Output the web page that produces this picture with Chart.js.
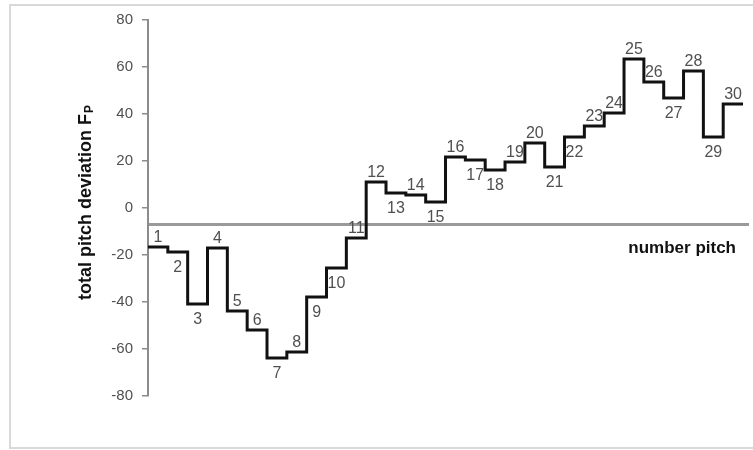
<!DOCTYPE html>
<html>
<head>
<meta charset="utf-8">
<script src="https://cdn.jsdelivr.net/npm/chart.js@4"></script>
<style>
  body { margin: 0; background: #fff; }
  #wrap { width: 753px; height: 450px; position: relative; }
</style>
</head>
<body>
<div id="wrap"><canvas id="pitchChart"></canvas></div>
<script>
// numéros des pas et écart cumulé
const pitchNumbers = [1, 2, 3, 4, 5, 6, 7, 8, 9, 10, 11, 12, 13, 14, 15,
                      16, 17, 18, 19, 20, 21, 22, 23, 24, 25, 26, 27, 28, 29, 30];
const deviation = [-16.6, -18.7, -40.9, -17, -43.8, -51.9, -63.8, -61.3, -37.9, -25.5,
                   -12.8, 11.1, 6.4, 5.5, 2.6, 21.7, 20.4, 16.2, 19.6, 27.7,
                   17.4, 30.2, 34.9, 40.4, 63.4, 53.6, 46.8, 58.3, 30.2, 44.3];
const yTicks = [-80, -60, -40, -20, 0, 20, 40, 60, 80];
const axisCrossing = -7.2; // ligne horizontale de l'axe des x

// étiquette au-dessus (1) ou en dessous (0) de chaque marche
const labelAbove = [1, 0, 0, 1, 1, 1, 0, 1, 0, 0, 1, 1, 0, 1, 0,
                    1, 0, 0, 1, 1, 0, 0, 1, 1, 1, 1, 0, 1, 0, 1];

// chaque marche va de i à i+1
const points = deviation.map((v, i) => ({ x: i, y: v }));
points.push({ x: deviation.length, y: deviation[deviation.length - 1] });

const stepLabels = {
  id: 'stepLabels',
  afterDatasetsDraw(chart) {
    const { ctx, scales: { x, y } } = chart;
    ctx.save();
    ctx.font = '16px "Liberation Sans", Arial, sans-serif';
    ctx.fillStyle = '#505050';
    ctx.textAlign = 'center';
    ctx.textBaseline = 'alphabetic';
    pitchNumbers.forEach((n, i) => {
      const px = x.getPixelForValue(i + 0.5);
      const py = y.getPixelForValue(deviation[i]);
      ctx.fillText(String(n), px, labelAbove[i] ? py - 5 : py + 20);
    });
    ctx.restore();
  }
};

const decorations = {
  id: 'decorations',
  beforeDraw(chart) {
    const { ctx } = chart;
    ctx.save();
    ctx.strokeStyle = '#d9d9d9';
    ctx.lineWidth = 2;
    ctx.strokeRect(10, 5, 800, 443);
    ctx.restore();
  },
  afterDraw(chart) {
    const { ctx, chartArea } = chart;
    ctx.save();
    // titre de l'axe y avec indice
    ctx.translate(86, 203);
    ctx.rotate(-Math.PI / 2);
    ctx.fillStyle = '#111';
    ctx.textBaseline = 'middle';
    const main = 'total pitch deviation F';
    ctx.font = 'bold 18px "Liberation Sans", Arial, sans-serif';
    const w1 = ctx.measureText(main).width;
    ctx.font = 'bold 12px "Liberation Sans", Arial, sans-serif';
    const w2 = ctx.measureText('P').width;
    const start = -(w1 + w2) / 2;
    ctx.font = 'bold 18px "Liberation Sans", Arial, sans-serif';
    ctx.textAlign = 'left';
    ctx.fillText(main, start, 0);
    ctx.font = 'bold 12px "Liberation Sans", Arial, sans-serif';
    ctx.fillText('P', start + w1 + 1, 4);
    ctx.restore();

    ctx.save();
    ctx.font = 'bold 17px "Liberation Sans", Arial, sans-serif';
    ctx.fillStyle = '#111';
    ctx.textAlign = 'right';
    ctx.textBaseline = 'middle';
    ctx.fillText('number pitch', chartArea.right - 12, 248);
    ctx.restore();
  }
};

new Chart(document.getElementById('pitchChart'), {
  type: 'line',
  data: {
    datasets: [{
      data: points,
      stepped: true,
      borderColor: '#111',
      borderWidth: 3,
      pointRadius: 0,
      fill: false
    }]
  },
  options: {
    responsive: true,
    maintainAspectRatio: false,
    animation: false,
    layout: { padding: { top: 20, bottom: 54, right: 5, left: 0 } },
    plugins: { legend: { display: false }, tooltip: { enabled: false } },
    scales: {
      x: {
        type: 'linear',
        min: 0,
        max: pitchNumbers.length + 0.25,
        position: { y: axisCrossing },
        ticks: { display: false },
        grid: { display: false },
        border: { display: true, color: '#9a9a9a', width: 3 }
      },
      y: {
        min: yTicks[0],
        max: yTicks[yTicks.length - 1],
        afterBuildTicks(scale) {
          scale.ticks = yTicks.map(v => ({ value: v }));
        },
        afterFit(scale) { scale.width = 148; },
        ticks: {
          color: '#505050',
          font: { family: '"Liberation Sans", Arial, sans-serif', size: 15 },
          padding: 9
        },
        grid: { drawOnChartArea: false, drawTicks: true, tickLength: 6, color: '#8c8c8c', lineWidth: 1.5 },
        border: { display: true, color: '#8c8c8c', width: 2 }
      }
    }
  },
  plugins: [stepLabels, decorations]
});
</script>
</body>
</html>
